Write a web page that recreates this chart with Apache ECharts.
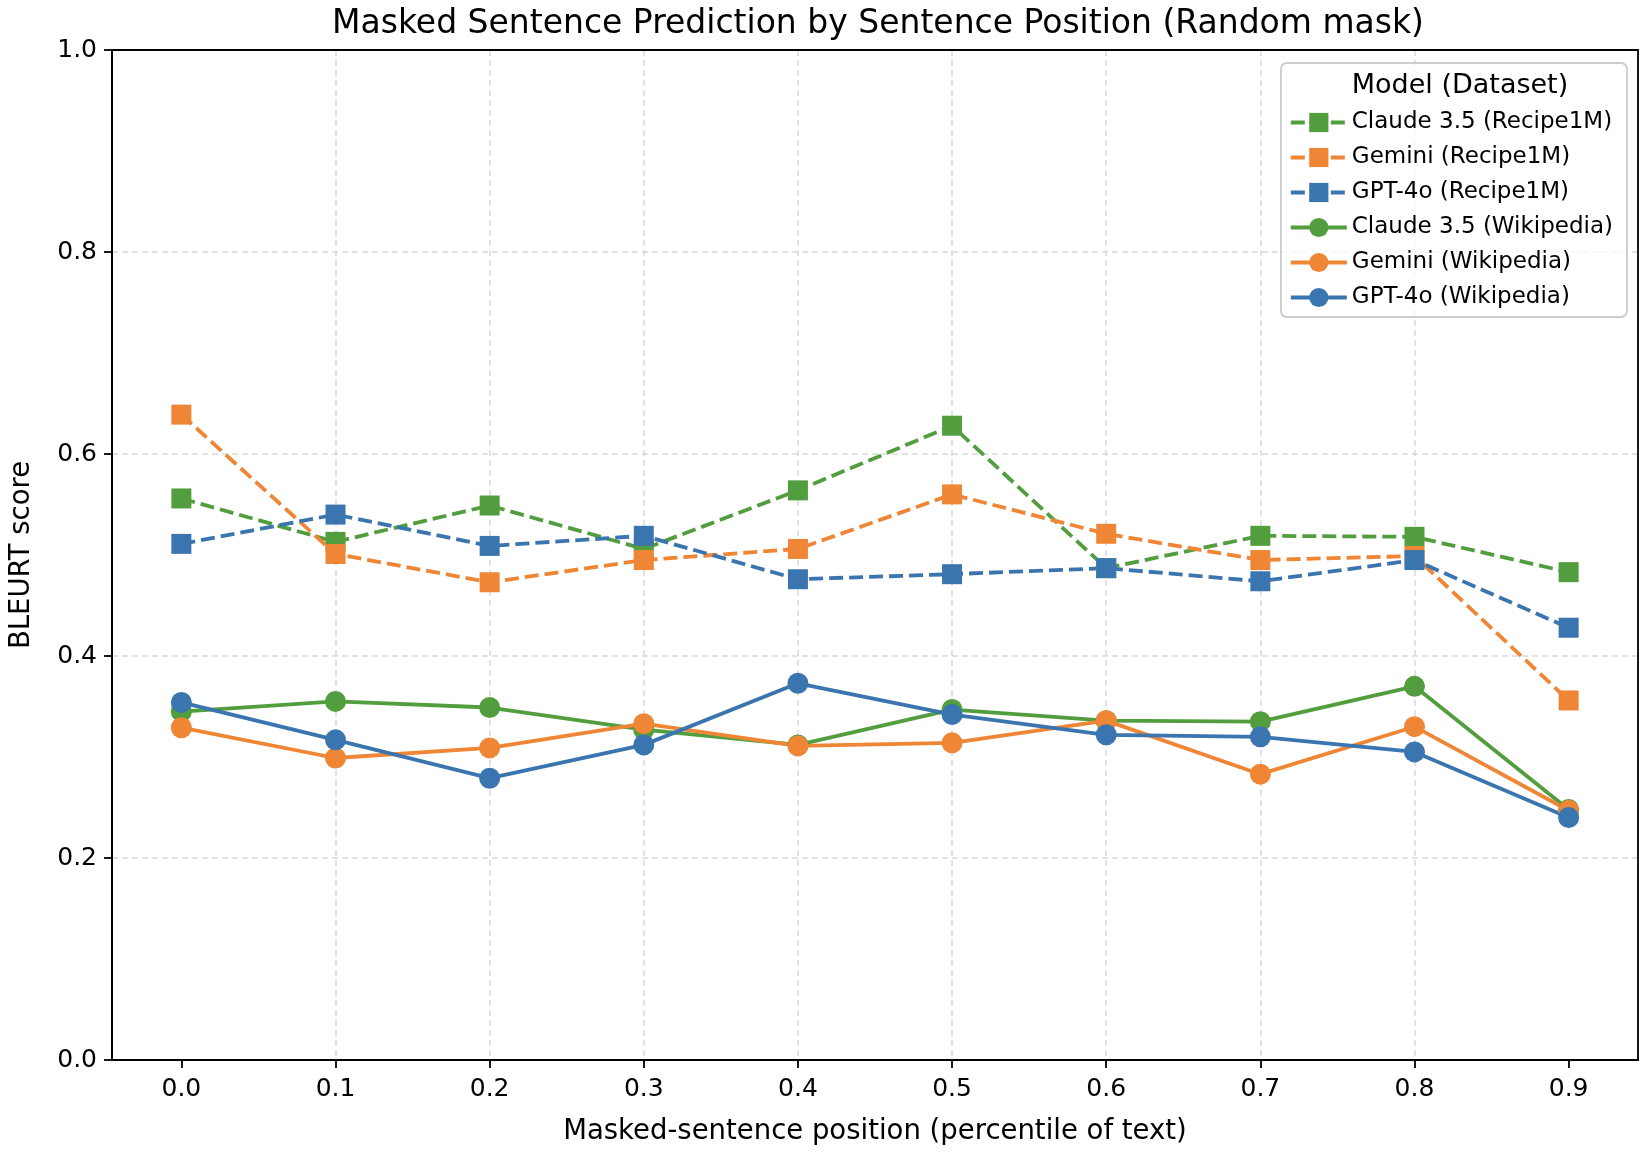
<!DOCTYPE html>
<html>
<head>
<meta charset="utf-8">
<script src="https://cdn.jsdelivr.net/npm/echarts@6/dist/echarts.min.js"></script>
<style>
html,body{margin:0;padding:0;background:#fff;}
#chart{width:1648px;height:1152px;}
</style>
</head>
<body>
<div id="chart"></div>
<script>
const positions = [0.0, 0.1, 0.2, 0.3, 0.4, 0.5, 0.6, 0.7, 0.8, 0.9];
const xTickValues = [0.0, 0.1, 0.2, 0.3, 0.4, 0.5, 0.6, 0.7, 0.8, 0.9];
const claudeRecipe = [0.556, 0.513, 0.549, 0.506, 0.564, 0.628, 0.487, 0.519, 0.518, 0.483];
const geminiRecipe = [0.639, 0.501, 0.473, 0.495, 0.506, 0.560, 0.521, 0.495, 0.499, 0.356];
const gptRecipe    = [0.511, 0.540, 0.509, 0.519, 0.476, 0.481, 0.487, 0.474, 0.495, 0.428];
const claudeWiki   = [0.345, 0.355, 0.349, 0.327, 0.312, 0.347, 0.336, 0.335, 0.370, 0.248];
const geminiWiki   = [0.329, 0.299, 0.309, 0.333, 0.311, 0.314, 0.336, 0.283, 0.330, 0.247];
const gptWiki      = [0.354, 0.317, 0.279, 0.312, 0.373, 0.342, 0.322, 0.320, 0.305, 0.240];
const seriesNames = ['Claude 3.5 (Recipe1M)', 'Gemini (Recipe1M)', 'GPT-4o (Recipe1M)',
                     'Claude 3.5 (Wikipedia)', 'Gemini (Wikipedia)', 'GPT-4o (Wikipedia)'];

const GREEN = '#529e3f', ORANGE = '#ef8636', BLUE = '#3b75af';
const FONT = 'DejaVu Sans';

function mk(name, vals, color, dashed) {
  return {
    name: name,
    type: 'line',
    data: positions.map((x, i) => [x, vals[i]]),
    symbol: dashed ? 'rect' : 'circle',
    symbolSize: dashed ? 20 : 21,
    showSymbol: true,
    itemStyle: { color: color },
    lineStyle: { color: color, width: 3.8, type: dashed ? [14, 6] : 'solid' },
    emphasis: { disabled: true },
    animation: false,
    z: 2
  };
}

const chart = echarts.init(document.getElementById('chart'), null, { renderer: 'canvas' });
const gridColor = '#d9d9d9';
chart.setOption({
  backgroundColor: '#fff',
  textStyle: { fontFamily: FONT },
  title: [{
    text: 'Masked Sentence Prediction by Sentence Position (Random mask)',
    left: 873, top: 3, textAlign: 'center',
    textStyle: { fontFamily: FONT, fontSize: 33, fontWeight: 'normal', color: '#000' }
  }, {
    text: 'Model (Dataset)',
    left: 1455, top: 67, textAlign: 'center',
    textStyle: { fontFamily: FONT, fontSize: 27, fontWeight: 'normal', color: '#000' }
  }],
  grid: { left: 109, right: 10, top: 50, bottom: 92, show: true, borderColor: '#000', borderWidth: 1.8, backgroundColor: 'transparent', z: 3 },
  legend: {
    data: seriesNames,
    orient: 'vertical',
    right: 21, top: 63,
    padding: [48, 14, 8, 8],
    itemWidth: 56, itemHeight: 24, itemGap: 12,
    backgroundColor: 'rgba(255,255,255,0.8)',
    borderColor: '#cccccc', borderWidth: 1.8, borderRadius: 6,
    lineStyle: { width: 3.8 },
    textStyle: { fontFamily: FONT, fontSize: 23, color: '#000' },
    selectedMode: false
  },
  xAxis: {
    type: 'value', min: -0.045, max: 0.945,
    name: 'Masked-sentence position (percentile of text)',
    nameLocation: 'middle', nameGap: 58,
    nameTextStyle: { fontFamily: FONT, fontSize: 27.5, color: '#000' },
    axisLine: { show: true, onZero: false, lineStyle: { color: '#000', width: 1.8 } },
    axisTick: { show: true, length: 8, inside: false, customValues: xTickValues, lineStyle: { color: '#000', width: 1.8 } },
    axisLabel: { customValues: xTickValues, formatter: v => v.toFixed(1), fontFamily: FONT, fontSize: 25, color: '#000', margin: 17 },
    splitLine: { show: true, showMinLine: false, showMaxLine: false, lineStyle: { color: gridColor, width: 1.5, type: [6, 4] } }
  },
  yAxis: {
    type: 'value', min: 0, max: 1, interval: 0.2,
    name: 'BLEURT score', nameLocation: 'middle', nameGap: 76,
    nameTextStyle: { fontFamily: FONT, fontSize: 27.5, color: '#000' },
    axisLine: { show: true, onZero: false, lineStyle: { color: '#000', width: 1.8 } },
    axisTick: { show: true, length: 8, lineStyle: { color: '#000', width: 1.8 } },
    axisLabel: { formatter: v => v.toFixed(1), fontFamily: FONT, fontSize: 25, color: '#000', margin: 15 },
    splitLine: { show: true, showMinLine: false, showMaxLine: false, lineStyle: { color: gridColor, width: 1.5, type: [6, 4] } }
  },
  series: [
    mk(seriesNames[0], claudeRecipe, GREEN, true),
    mk(seriesNames[1], geminiRecipe, ORANGE, true),
    mk(seriesNames[2], gptRecipe, BLUE, true),
    mk(seriesNames[3], claudeWiki, GREEN, false),
    mk(seriesNames[4], geminiWiki, ORANGE, false),
    mk(seriesNames[5], gptWiki, BLUE, false)
  ]
});
</script>
</body>
</html>
